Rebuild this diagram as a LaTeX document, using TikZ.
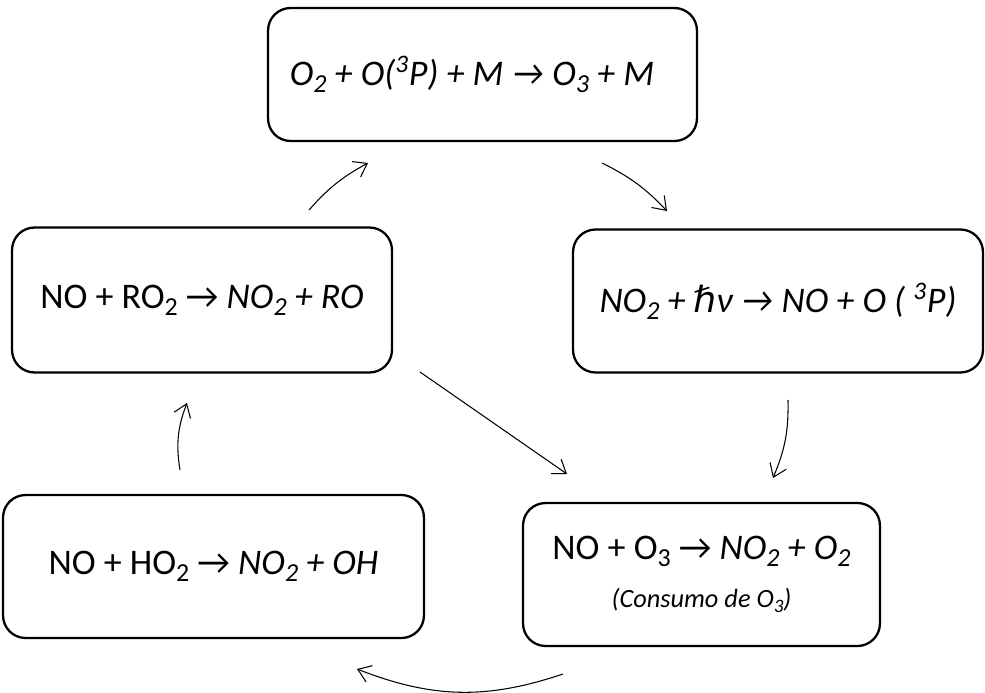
\documentclass[tikz,border=0pt]{standalone}
\usepackage{fontspec}
\usepackage{graphicx}
\setmainfont{Carlito}
\newfontfamily\planckfont{DejaVu Sans}
\usetikzlibrary{arrows.meta}
\newcommand{\sub}[1]{\raisebox{-0.4ex}{\scalebox{0.72}{#1}}}
\newcommand{\ra}{→}

\begin{document}
\begin{tikzpicture}[x=0.02cm, y=-0.02cm,
    >={Straight Barb[length=7pt, width=10pt]},
    reac/.style={draw, line width=1.3pt, rounded corners=0.45cm, inner sep=0pt,
      minimum height=2.86cm, font=\fontsize{20.5}{24}\selectfont, align=center},
    flow/.style={->, line width=0.6pt}]
    \useasboundingbox (0,0) rectangle (985,693);

    \node[reac, minimum width=8.58cm, minimum height=2.66cm] (ozone) at (482.5,74.5)
      {\textit{O\sub{2} + O(\textsuperscript{3}P) + M \ra{} O\sub{3} + M}\hspace{12pt}};
    \node[reac, minimum width=8.2cm] (photo) at (778,301)
      {\textit{NO\sub{2} + {\planckfont ℏ}ν \ra{} NO + O ( \textsuperscript{3}P)}};
    \node[reac, minimum width=7.6cm, minimum height=2.9cm] (peroxy) at (202,300)
      {NO + RO\sub{2} \ra{} \textit{NO\sub{2} + RO}};
    \node[reac, minimum width=8.42cm] (hydro) at (213.5,566.5)
      {NO + HO\sub{2} \ra{} \textit{NO\sub{2} + OH}};
    \node[reac, minimum width=7.14cm] (titr) at (701.5,574.5)
      {NO + O\sub{3} \ra{} \textit{NO\sub{2} + O\sub{2}}\\[3pt]
       {\fontsize{15}{17}\selectfont\textit{(Consumo de O\sub{3})}}};

    \coordinate (p2o-a) at (309,210);  \coordinate (p2o-b) at (368,163);
    \coordinate (o2p-a) at (602,163);  \coordinate (o2p-b) at (667,211);
    \coordinate (p2t-a) at (788,400);  \coordinate (p2t-b) at (773,478);
    \coordinate (r2t-a) at (420,372);  \coordinate (r2t-b) at (567,474);
    \coordinate (t2h-a) at (563,674);  \coordinate (t2h-b) at (357,669);
    \coordinate (h2r-a) at (180,470);  \coordinate (h2r-b) at (187,403);

    \draw[flow] (p2o-a) to[bend left=10] (p2o-b);
    \draw[flow] (o2p-a) to[bend left=10] (o2p-b);
    \draw[flow] (p2t-a) to[bend left=12] (p2t-b);
    \draw[flow] (r2t-a) -- (r2t-b);
    \draw[flow] (t2h-a) to[bend left=20] (t2h-b);
    \draw[flow] (h2r-a) to[bend left=15] (h2r-b);
  \end{tikzpicture}
\end{document}
